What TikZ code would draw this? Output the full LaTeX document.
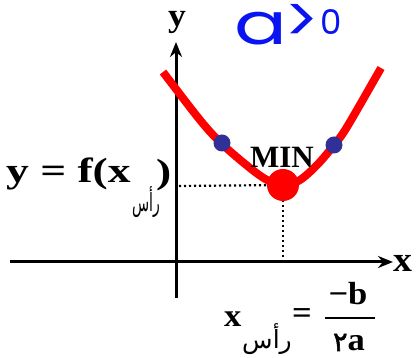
\documentclass[tikz,border=0pt]{standalone}
\usepackage{fontspec}
\usepackage{graphicx}
\setmainfont{Liberation Serif}
\newfontfamily\eqfont[FakeStretch=1.3]{Liberation Serif Bold}
\newfontfamily\eqfontb[FakeStretch=1.08]{Liberation Serif Bold}
\newfontfamily\arabicfont[Script=Arabic]{DejaVu Sans}
\newfontfamily\arabicbold[Script=Arabic,FakeBold=2]{DejaVu Sans}
\newfontfamily\handfont{Poppins}
\TeXXeTstate=1
\usetikzlibrary{arrows.meta}
\definecolor{dotblue}{RGB}{48,48,150}
\definecolor{penblue}{RGB}{10,20,240}
\begin{document}
\begin{tikzpicture}[x=1pt,y=-1pt,
  axis/.style={line width=3pt,-{Stealth[length=15pt,width=12pt]}},
  curve/.style={red,line width=8pt},
  guide/.style={line width=2.2pt,dash pattern=on 2.2pt off 2.8pt},
  bluedot/.style={circle,fill=dotblue,inner sep=0pt,minimum size=17pt},
  eqtext/.style={inner sep=0pt,font=\eqfont\fontsize{35}{35}\selectfont},
  eqtextb/.style={inner sep=0pt,font=\eqfontb\fontsize{32}{32}\selectfont},
  artext/.style={inner sep=0pt,font=\arabicfont\fontsize{25}{25}\selectfont}]
\useasboundingbox (0,0) rectangle (416,358);
% axes
\coordinate (yb) at (176,298);
\coordinate (yt) at (176,42);
\coordinate (xl) at (10,262);
\coordinate (xr) at (393,262);
\draw[axis] (yb) -- (yt);
\draw[axis] (xl) -- (xr);
\node[eqtextb,font=\eqfontb\fontsize{33}{33}\selectfont] (ylab) at (177,22) {y};
\node[eqtextb,anchor=west,font=\eqfontb\fontsize{35}{35}\selectfont] (xlab) at (393,263) {x};
% guides
\coordinate (v) at (283,185);
\coordinate (ha) at (179,186);
\coordinate (vb) at (283,262);
\draw[guide] (ha) -- (v);
\draw[guide] (v) -- (vb);
% parabola
\draw[curve] plot[smooth,tension=0.55] coordinates {(163,72) (200,120) (222,144) (250,168) (267,180) (283,186) (300,180) (318,164) (334,145) (347,127) (381,68)};
\node[circle,fill=red,inner sep=0pt,minimum width=32pt,minimum height=29pt] (vdot) at (v) {};
\node[bluedot] (bl) at (222,143) {};
\node[bluedot] (br) at (334,145) {};
\node[inner sep=0pt,font=\bfseries\fontsize{31}{31}\selectfont] (min) at (282,157) {MIN};
% left formula
\node[eqtext,anchor=base west] (fx) at (6,183) {y = f(x};
\node[artext] (sub1) at (146,202) {\scalebox{0.56}[1]{\beginR رأس\endR}};
\node[eqtext,anchor=base west] (rp) at (156,184) {)};
% bottom formula
\node[eqtextb,anchor=base west] (xv) at (224,327) {x};
\node[artext] (sub2) at (267,339) {\beginR رأس\endR};
\node[eqtextb] (eq) at (302,316) {=};
\node[eqtextb,anchor=base] (num) at (348,305) {−b};
\coordinate (fb1) at (325,318);
\coordinate (fb2) at (375,318);
\draw[line width=2.5pt] (fb1) -- (fb2);
\node[eqtextb,anchor=base] (den) at (349,351) {{\arabicbold\fontsize{27}{27}\selectfont ٢}a};
% handwritten note
\node[text=penblue,inner sep=0pt,anchor=base,font=\handfont\fontsize{58}{58}\selectfont] (note) at (288,45) {\scalebox{1.35}[1]{a}\kern-3pt\raisebox{2pt}{\fontsize{64}{64}\selectfont >}\kern1pt\raisebox{10pt}{\fontsize{34}{34}\selectfont 0}};
\end{tikzpicture}
\end{document}
